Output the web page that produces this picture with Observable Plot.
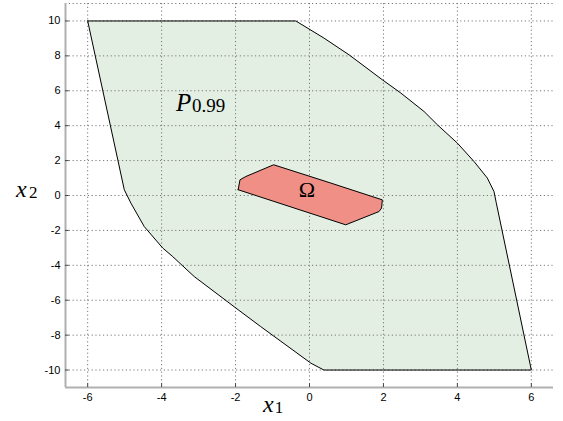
<!DOCTYPE html>
<html><head><meta charset="utf-8">
<script src="https://cdn.jsdelivr.net/npm/d3@7"></script>
<script src="https://cdn.jsdelivr.net/npm/@observablehq/plot@0.6"></script>
<style>body{margin:0;background:#fff} svg{display:block}</style>
</head><body><div id="chart"></div>
<script>
const xTicks = [-6, -4, -2, 0, 2, 4, 6];
const yTicks = [-10, -8, -6, -4, -2, 0, 2, 4, 6, 8, 10];

// P_0.99 polygon vertices
const pX = [-6, -0.37, 0.39, 1.07, 1.97, 2.47, 3.10, 3.46, 4.0, 4.45, 4.81, 4.99, 5.05, 6, 0.39, 0.04, -1.32, -1.99, -3.12, -3.70, -3.97, -4.47, -4.83, -5.01, -6];
const pY = [10, 10, 9.02, 8.06, 6.63, 5.87, 4.81, 4.05, 3.0, 1.95, 1.0, 0.23, -0.4, -10, -10, -9.61, -7.51, -6.45, -4.64, -3.50, -3.01, -1.78, -0.44, 0.33, 10];

// Omega polygon vertices
const oX = [-1.93, -1.88, -1.72, -0.97, 0.58, 1.97, 1.95, 1.88, 0.98, -1.93];
const oY = [0.33, 0.9, 1.09, 1.76, 0.71, -0.25, -0.72, -0.92, -1.68, 0.33];

const pLabel = ["P", "0.99"];
const omegaLabel = ["Ω"];
const xLabel = ["x", "1"];
const yLabel = ["x", "2"];

const P = pX.map((x, i) => ({x, y: pY[i]}));
const O = oX.map((x, i) => ({x, y: oY[i]}));

const serif = "Liberation Serif";
const dotted = {stroke: "#777", strokeOpacity: 1, strokeWidth: 1, strokeDasharray: "1.2,2.6"};

const chart = Plot.plot({
  width: 563, height: 421,
  marginLeft: 65, marginRight: 10, marginTop: 3, marginBottom: 34,
  x: {domain: [-6.6, 6.6], label: null},
  y: {domain: [-11, 11], label: null},
  style: {background: "#fff", fontFamily: "Liberation Sans, Arial, sans-serif", fontSize: "11px", color: "#000"},
  marks: [
    Plot.line(P, {x: "x", y: "y", fill: "#e3efe3", stroke: "none"}),
    Plot.gridX(xTicks, dotted),
    Plot.gridY(yTicks, dotted),
    Plot.ruleY([11], dotted),
    Plot.line(P, {x: "x", y: "y", stroke: "#000", strokeWidth: 1}),
    Plot.line(O, {x: "x", y: "y", fill: "#ef8f86", stroke: "#000", strokeWidth: 1}),
    Plot.ruleX([-6.6], {stroke: "#b0b0b0", strokeWidth: 2}),
    Plot.ruleY([-11], {stroke: "#b0b0b0", strokeWidth: 2}),
    Plot.ruleX(xTicks, {y1: -11, y2: -10.78, stroke: "#444"}),
    Plot.ruleY(yTicks, {x1: -6.6, x2: -6.5, stroke: "#444"}),
    Plot.axisX(xTicks, {tickSize: 0, tickPadding: 6, tickFormat: d => String(d), label: null}),
    Plot.axisY(yTicks, {tickSize: 0, tickPadding: 5, tickFormat: d => String(d), label: null}),
    Plot.text([pLabel[0]], {x: -3.61, y: 5.31, text: d => d, textAnchor: "start", fontFamily: serif, fontStyle: "italic", fontSize: 25}),
    Plot.text([pLabel[1]], {x: -3.18, y: 5.11, text: d => d, textAnchor: "start", fontFamily: serif, fontSize: 19}),
    Plot.text(omegaLabel, {x: -0.07, y: 0.33, text: d => d, textAnchor: "middle", fontFamily: serif, fontSize: 22}),
    Plot.text([xLabel[0]], {x: -1.26, y: -11.94, text: d => d, textAnchor: "start", fontFamily: serif, fontStyle: "italic", fontSize: 24}),
    Plot.text([xLabel[1]], {x: -0.94, y: -12.14, text: d => d, textAnchor: "start", fontFamily: serif, fontSize: 17}),
    Plot.text([yLabel[0]], {x: -7.94, y: 0.38, text: d => d, textAnchor: "start", fontFamily: serif, fontStyle: "italic", fontSize: 24}),
    Plot.text([yLabel[1]], {x: -7.59, y: 0.16, text: d => d, textAnchor: "start", fontFamily: serif, fontSize: 17})
  ]
});

// clip the bottom of the x tick labels like the reference
const ns = "http://www.w3.org/2000/svg";
const defs = document.createElementNS(ns, "defs");
const cp = document.createElementNS(ns, "clipPath");
cp.setAttribute("id", "xtickclip");
const r = document.createElementNS(ns, "rect");
r.setAttribute("x", 0); r.setAttribute("y", 0);
r.setAttribute("width", 563); r.setAttribute("height", 401);
cp.appendChild(r); defs.appendChild(cp);
chart.insertBefore(defs, chart.firstChild);
const xt = chart.querySelector('g[aria-label="x-axis tick label"]');
if (xt) xt.setAttribute("clip-path", "url(#xtickclip)");

document.getElementById("chart").appendChild(chart);
</script>
</body></html>
